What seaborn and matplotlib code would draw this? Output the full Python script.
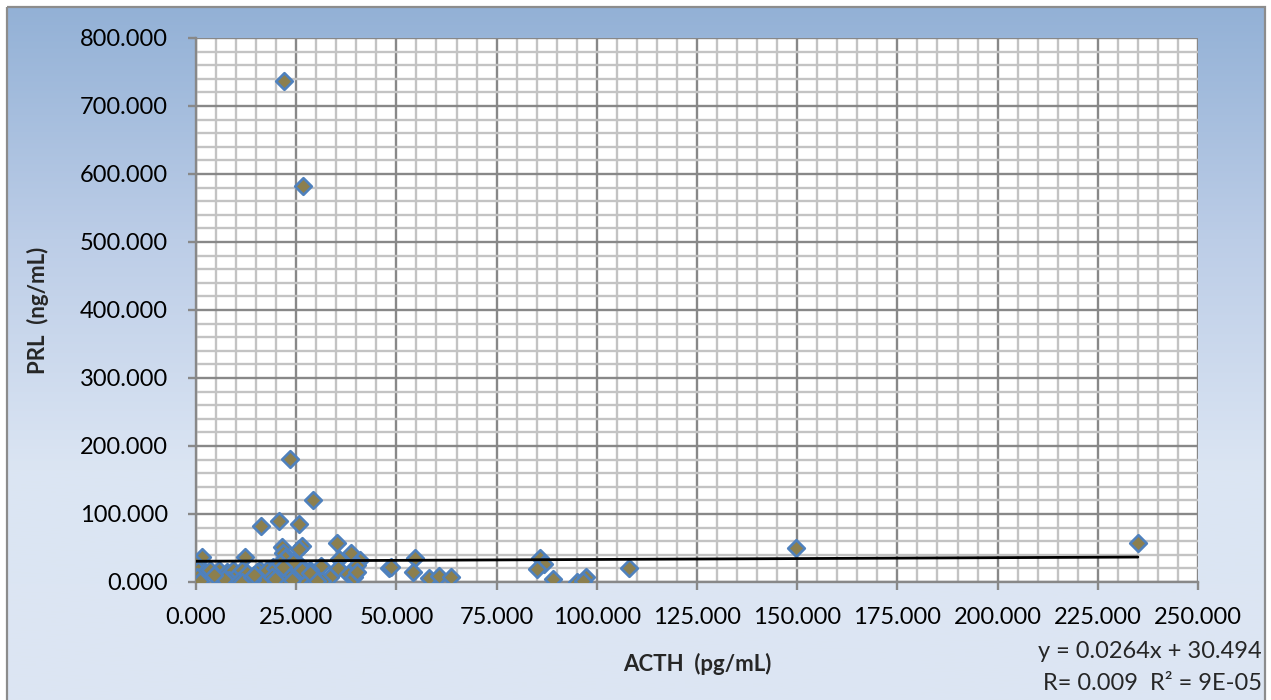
import numpy as np
import pandas as pd
import matplotlib
matplotlib.use("Agg")
import matplotlib.pyplot as plt
from matplotlib.ticker import MultipleLocator, FuncFormatter
from matplotlib.colors import LinearSegmentedColormap
from matplotlib.patches import Rectangle
import seaborn as sns

# ACTH (pg/mL) and PRL (ng/mL) per sample
acth = [22.0, 26.6, 23.4, 29.2, 20.6, 16.2, 25.8, 21.4, 26.4, 25.8,
        21.8, 22.2, 35.3, 38.6, 35.8, 40.9, 40.1, 35.5, 37.8, 39.3,
        40.2, 31.2, 33.4, 31.4, 29.3, 27.2, 28.4, 25.9, 24.3, 22.6,
        21.0, 19.3, 17.6, 16.0, 26.4, 24.3, 48.2, 48.6, 54.6, 54.2,
        58.2, 60.6, 63.5, 85.8, 86.8, 85.0, 89.1, 95.0, 97.3, 96.6,
        108.1, 149.7, 235.0,
        1.4, 0.0, 0.6, 2.2, 0.2, 1.0, 12.3, 5.7, 7.7, 9.3,
        10.4, 11.4, 8.3, 10.8, 12.7, 15.1, 16.4, 13.9, 17.6, 19.6,
        21.0, 24.3, 22.2, 18.9, 26.4, 28.4, 30.1, 21.4, 23.9, 3.5,
        11.4, 13.9, 21.8, 7.0, 4.5, 14.5, 19.8]
prl = [737.0, 583.0, 181.0, 120.0, 90.0, 82.0, 85.0, 52.0, 53.0, 48.0,
       42.0, 35.0, 57.0, 43.0, 34.0, 33.0, 25.0, 20.0, 12.0, 8.0,
       15.0, 23.0, 7.0, 1.0, 1.0, 12.0, 18.0, 25.0, 18.0, 1.0,
       8.0, 22.0, 8.0, 18.0, 7.0, 8.0, 20.0, 22.0, 36.0, 14.0,
       6.0, 9.0, 7.0, 36.0, 27.0, 19.0, 5.0, 0.5, 8.0, 1.0,
       21.0, 50.0, 58.0,
       37.0, 27.0, 18.0, 15.0, 8.0, 1.0, 37.0, 18.0, 15.0, 18.0,
       12.0, 18.0, 3.0, 1.0, 13.0, 15.0, 3.0, 3.0, 18.0, 20.0,
       28.0, 30.0, 13.0, 8.0, 18.0, 13.0, 1.0, 1.0, 3.0, 18.0,
       0.0, 8.0, 22.0, 5.0, 10.0, 10.0, 4.0]

# Linear trend line coefficients and correlation
slope = 0.0264
intercept = 30.494
r_value = "0.009"
r2_value = "9E-05"

x_max = 250
y_max = 800

df = pd.DataFrame({"ACTH": acth, "PRL": prl})

sns.set_theme(style="white")
plt.rcParams["font.family"] = ["Lato", "DejaVu Sans"]

fig = plt.figure(figsize=(12.71, 7.0), dpi=100)

# Chart-area background: blue vertical gradient inside a grey frame
bg = fig.add_axes([0, 0, 1, 1], zorder=-10)
bg.set_xlim(0, 1271)
bg.set_ylim(700, 0)
bg.axis("off")
cmap = LinearSegmentedColormap.from_list(
    "bg", ["#93b1d6", "#bccde7", "#dbe5f3", "#dde6f3"], N=256)
grad = np.linspace(0, 1, 256).reshape(-1, 1)
bg.imshow(grad, cmap=cmap, aspect="auto", extent=[7, 1265, 700, 7],
          interpolation="bicubic")
bg.add_patch(Rectangle((7, 7), 1258, 700, fill=False,
                       edgecolor="#8c8c8c", linewidth=1.6))

ax = fig.add_axes([196 / 1271, 1 - 582 / 700, 1002 / 1271, 544 / 700])
ax.set_facecolor("white")

sns.scatterplot(data=df, x="ACTH", y="PRL", ax=ax, marker="D", s=72,
                color="#8c7f4e", edgecolor="#4f81bd", linewidth=1.9,
                zorder=3, legend=False)

# Trend line y = slope * x + intercept over the data range
xs = np.array([0.0, max(acth)])
ax.plot(xs, slope * xs + intercept, color="black", lw=2.0, zorder=4)

ax.set_xlim(0, x_max)
ax.set_ylim(0, y_max)
ax.xaxis.set_major_locator(MultipleLocator(25))
ax.xaxis.set_minor_locator(MultipleLocator(5))
ax.yaxis.set_major_locator(MultipleLocator(100))
ax.yaxis.set_minor_locator(MultipleLocator(20))
fmt = FuncFormatter(lambda v, p: f"{v:.3f}")
ax.xaxis.set_major_formatter(fmt)
ax.yaxis.set_major_formatter(fmt)

ax.grid(which="minor", color="#c3c3c3", lw=1.7, zorder=0)
ax.grid(which="major", color="#888888", lw=1.7, zorder=1)
ax.set_axisbelow(True)
for side, sp in ax.spines.items():
    sp.set_visible(side in ("left", "bottom"))
    sp.set_color("#888888")
    sp.set_linewidth(1.7)

ax.tick_params(which="major", direction="out", length=6, width=1.7,
               color="#888888", labelsize=17, labelcolor="black",
               bottom=True, left=True)
ax.tick_params(axis="y", which="major", pad=14)
ax.tick_params(axis="x", which="major", pad=12)
ax.tick_params(which="minor", length=0)

ax.set_xlabel("ACTH  (pg/mL)", fontsize=16, fontweight="bold", labelpad=18)
ax.set_ylabel("PRL  (ng/mL)", fontsize=16, fontweight="bold", labelpad=22)

fig.text(1262 / 1271, 1 - 652 / 700, f"y = {slope}x + {intercept}",
         ha="right", va="center", fontsize=17)
fig.text(1262 / 1271, 1 - 683 / 700, f"R= {r_value}  R² = {r2_value}",
         ha="right", va="center", fontsize=17)

fig.savefig("out.png", dpi=100)
